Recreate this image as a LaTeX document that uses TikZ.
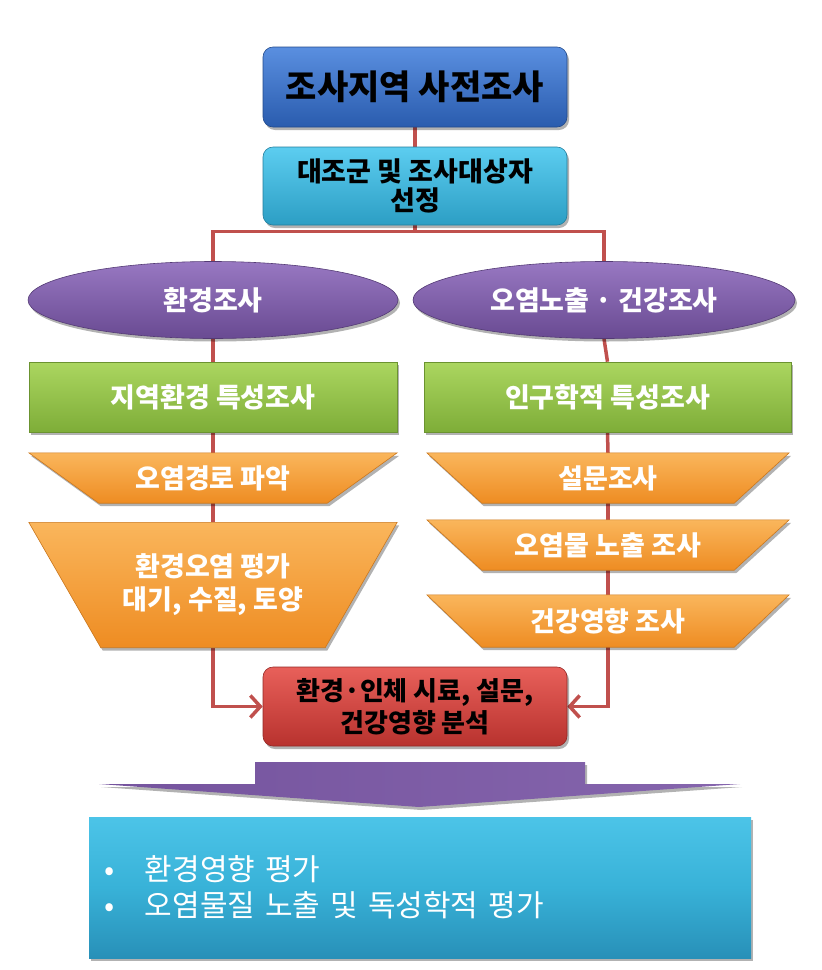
\documentclass[tikz,border=0pt]{standalone}
\usepackage{fontspec}
\setmainfont{Noto Sans CJK KR}
\usetikzlibrary{shapes.geometric,arrows.meta,shadows,backgrounds,calc}
\definecolor{redline}{HTML}{C0504D}
\definecolor{blueT}{HTML}{5A8FE0}
\definecolor{blueB}{HTML}{2A5CAE}
\definecolor{cyanT}{HTML}{5CCDF0}
\definecolor{cyanB}{HTML}{2C9EC4}
\definecolor{resT}{HTML}{4CC4E8}
\definecolor{resM}{HTML}{38B2D8}
\definecolor{resB}{HTML}{2890B8}
\definecolor{purT}{HTML}{9878C2}
\definecolor{purB}{HTML}{694A92}
\definecolor{grnT}{HTML}{ABD660}
\definecolor{grnB}{HTML}{7EAD38}
\definecolor{orT}{HTML}{FAB65C}
\definecolor{orB}{HTML}{EE8C22}
\definecolor{redT}{HTML}{E8605A}
\definecolor{redB}{HTML}{B8322E}
\definecolor{arrowpur}{HTML}{7B58A6}
\begin{document}
\begin{tikzpicture}[x=1pt,y=-1pt,
  shadowed/.style={drop shadow={shadow xshift=2pt,shadow yshift=-3pt,opacity=0.3,fill=black}},
  base/.style={inner sep=2pt,align=center,shadowed},
  topbox/.style={base,rectangle,rounded corners=10pt,minimum width=304pt,minimum height=80pt,
    top color=blueT,bottom color=blueB,draw=blueB!80!black,line width=0.6pt,
    font=\fontsize{34}{38}\selectfont\bfseries},
  selbox/.style={base,rectangle,rounded corners=10pt,minimum width=304pt,minimum height=78pt,
    top color=cyanT,bottom color=cyanB,draw=cyanB!80!black,line width=0.6pt,
    font=\fontsize{27}{29}\selectfont\bfseries},
  ellbox/.style={base,ellipse,inner sep=0pt,minimum height=77pt,
    top color=purT,bottom color=purB,draw=purB!80!black,line width=0.6pt,text=white,
    font=\fontsize{27}{30}\selectfont\bfseries},
  grnbox/.style={base,rectangle,minimum width=368pt,minimum height=70pt,
    top color=grnT,bottom color=grnB,draw=grnB!85!black,line width=0.6pt,text=white,
    font=\fontsize{27}{30}\selectfont\bfseries},
  traptext/.style={rectangle,inner sep=0pt,align=center,text=white,
    font=\fontsize{27}{33}\selectfont\bfseries},
  trapshape/.style={top color=orT,bottom color=orB,draw=orB!85!black,line width=0.6pt,shadowed},
  anbox/.style={base,rectangle,rounded corners=10pt,minimum width=304pt,minimum height=79pt,
    top color=redT,bottom color=redB,draw=redB!80!black,line width=0.6pt,
    font=\fontsize{26}{32}\selectfont\bfseries},
  resbox/.style={base,rectangle,minimum width=662pt,minimum height=141pt,text width=632pt,
    inner xsep=15pt,align=left,top color=resT,bottom color=resB,middle color=resM,
    text=white,font=\fontsize{30}{36}\selectfont},
  conn/.style={draw=redline,line width=3.5pt},
  connarrow/.style={conn,-{Straight Barb[length=10pt,width=22pt,line width=3.5pt]}}
]
\useasboundingbox (0,0) rectangle (822,970);

\node[topbox] (top) at (415,87) {조사지역 사전조사};
\node[selbox] (sel) at (415,186) {대조군 및 조사대상자\\선정};
\coordinate (split) at ($(sel.south)+(0,6)$);

\node[ellbox,minimum width=370pt] (e1) at (213,300) {환경조사};
\node[ellbox,minimum width=382pt] (e2) at (604,300) {오염노출 · 건강조사};

\node[grnbox] (g1) at (213,397) {지역환경 특성조사};
\node[grnbox,minimum width=367pt] (g2) at (607.5,397) {인구학적 특성조사};

\node[traptext,minimum width=368pt,minimum height=50pt] (o1) at (213,478) {오염경로 파악};
\node[traptext,minimum width=368pt,minimum height=125pt] (o2) at (213,585) {환경오염 평가\\대기, 수질, 토양};

\node[traptext,minimum width=362pt,minimum height=50pt] (r1) at (608,478) {설문조사};
\node[traptext,minimum width=362pt,minimum height=50pt] (r2) at (608,545) {오염물 노출 조사};
\node[traptext,minimum width=362pt,minimum height=52pt] (r3) at (608,621) {건강영향 조사};

\node[anbox] (an) at (415,706.5) {환경·인체 시료, 설문,\\건강영향 분석};

\node[resbox] (res) at (420,887.5) {\makebox[41pt][l]{•}환경영향 평가\\\makebox[41pt][l]{•}오염물질 노출 및 독성학적 평가};

\begin{pgfonlayer}{background}
  % connectors
  \draw[conn] (top.south) -- (sel.north);
  \draw[conn] (sel.south) -- (split);
  \draw[conn] (e1.north) |- (split) -| (e2.north);
  \draw[conn] (e1.south) -- (g1.north);
  \draw[conn] (e2.south) -- (g2.north);
  \draw[conn] (g1.south) -- (o1.north);
  \draw[conn] (o1.south) -- (o2.north);
  \draw[conn] (g2.south) -- (r1.north);
  \draw[conn] (r1.south) -- (r2.north);
  \draw[conn] (r2.south) -- (r3.north);
  \draw[connarrow] (o2.south) |- (an.west);
  \draw[connarrow] (r3.south) |- (an.east);
  % trapezoid shapes
  \foreach \n/\d in {o1/70,o2/72,r1/55,r2/55,r3/55}{
    \shade[trapshape] (\n.north west) -- (\n.north east)
      -- ([xshift=-\d pt]\n.south east) -- ([xshift=\d pt]\n.south west) -- cycle;
  }
\end{pgfonlayer}

% big down arrow
\shade[left color=arrowpur!95!black,right color=arrowpur!92!white,shadowed]
  (255,762) -- (585,762) -- (585,784) -- (740,784) -- (419,807) -- (99,784) -- (255,784) -- cycle;
\end{tikzpicture}
\end{document}
